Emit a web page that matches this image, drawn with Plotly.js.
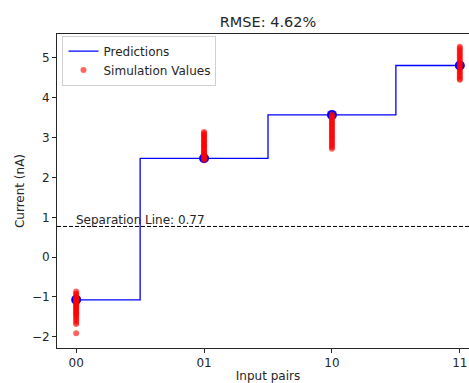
<!DOCTYPE html>
<html>
<head>
<meta charset="utf-8">
<script src="https://cdn.plot.ly/plotly-3.0.1.min.js"></script>
<style>
  html, body { margin: 0; padding: 0; overflow: hidden; background: #fff; }
  #chart { width: 490px; height: 383px; }
</style>
</head>
<body>
<div id="chart"></div>
<script>
// Input pair categories and their tick labels
const pairIndex = [0, 1, 2, 3];
const pairLabels = ['00', '01', '10', '11'];

// Predicted current for each input pair (nA)
const predictions = [-1.07, 2.48, 3.57, 4.81];

// Simulated current samples for each input pair (nA)
const sim00 = [-0.86, -0.91, -0.94, -0.99, -1.01, -1.04, -1.06, -1.09, -1.11, -1.13,
               -1.16, -1.19, -1.21, -1.24, -1.27, -1.29, -1.32, -1.35, -1.38, -1.41,
               -1.44, -1.47, -1.51, -1.55, -1.59, -1.64, -1.68, -1.91];
const sim01 = [2.44, 2.47, 2.51, 2.53, 2.57, 2.60, 2.62, 2.66, 2.69, 2.71,
               2.75, 2.78, 2.81, 2.83, 2.87, 2.90, 2.92, 2.96, 2.99, 3.02,
               3.05, 3.08, 3.11, 3.14];
const sim10 = [3.58, 3.55, 3.51, 3.47, 3.44, 3.40, 3.36, 3.33, 3.29, 3.25,
               3.22, 3.18, 3.14, 3.11, 3.07, 3.03, 3.00, 2.96, 2.92, 2.88,
               2.84, 2.80, 2.76, 2.72];
const sim11 = [5.28, 5.24, 5.19, 5.15, 5.10, 5.06, 5.01, 4.97, 4.92, 4.88,
               4.84, 4.80, 4.76, 4.72, 4.68, 4.64, 4.60, 4.56, 4.52, 4.48, 4.45];

const separation = 0.77;

const simGroups = [sim00, sim01, sim10, sim11];
const simX = [];
const simY = [];
simGroups.forEach((vals, i) => {
  vals.forEach(v => { simX.push(pairIndex[i]); simY.push(v); });
});

const font = 'DejaVu Sans, sans-serif';
const ink = '#262626';

const traces = [
  {
    x: pairIndex, y: predictions,
    type: 'scatter', mode: 'markers',
    marker: { color: 'blue', size: 10 },
    showlegend: false, hoverinfo: 'skip'
  },
  {
    x: pairIndex, y: predictions,
    type: 'scatter', mode: 'lines',
    line: { color: 'blue', width: 1.3, shape: 'hvh' },
    name: 'Predictions'
  },
  {
    x: simX, y: simY,
    type: 'scatter', mode: 'markers',
    marker: { color: 'red', size: 6, opacity: 0.6 },
    name: 'Simulation Values'
  }
];

const layout = {
  width: 490, height: 383,
  margin: { l: 57, r: 11, t: 34, b: 35 },
  paper_bgcolor: '#fff', plot_bgcolor: '#fff',
  font: { family: font, size: 12, color: ink },
  title: {
    text: 'RMSE: 4.62%',
    font: { family: font, size: 14.5, color: ink },
    x: 0.5, xref: 'paper', y: 0.943, yref: 'container', yanchor: 'middle'
  },
  xaxis: {
    range: [-0.15, 3.15],
    tickvals: pairIndex, ticktext: pairLabels,
    showgrid: false, zeroline: false,
    showline: true, mirror: true, linecolor: ink, linewidth: 1,
    ticks: 'outside', ticklen: 4, tickcolor: ink,
    title: { text: 'Input pairs', font: { family: font, size: 12 }, standoff: 4 }
  },
  yaxis: {
    range: [-2.28, 5.60],
    tickvals: [-2, -1, 0, 1, 2, 3, 4, 5],
    showgrid: false, zeroline: false,
    showline: true, mirror: true, linecolor: ink, linewidth: 1,
    ticks: 'outside', ticklen: 4, tickcolor: ink,
    title: { text: 'Current (nA)', font: { family: font, size: 12 }, standoff: 4 }
  },
  shapes: [{
    type: 'line', xref: 'paper', x0: 0, x1: 1,
    yref: 'y', y0: separation, y1: separation,
    line: { color: '#000', width: 1, dash: '4px,2px' }
  }],
  annotations: [{
    x: 0, y: separation, xref: 'x', yref: 'y',
    text: 'Separation Line: ' + separation.toFixed(2),
    showarrow: false, xanchor: 'left', yanchor: 'bottom',
    font: { family: font, size: 12, color: ink }, xshift: -2, yshift: -3
  }],
  legend: {
    x: 0.013, y: 0.995, xanchor: 'left', yanchor: 'top',
    bgcolor: 'rgba(255,255,255,0.8)', bordercolor: '#d0d0d0', borderwidth: 1,
    itemwidth: 30, tracegroupgap: 0,
    font: { family: font, size: 12 }
  }
};

Plotly.newPlot('chart', traces, layout, { displayModeBar: false, staticPlot: true });
</script>
</body>
</html>
